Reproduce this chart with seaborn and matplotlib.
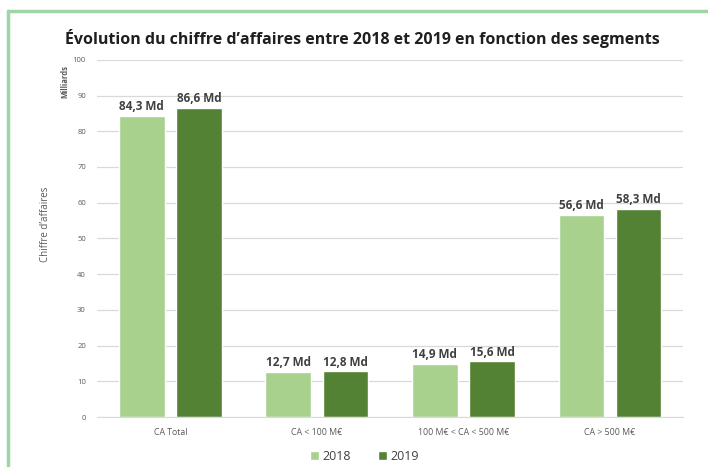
import pandas as pd
import matplotlib

matplotlib.use("Agg")
import matplotlib.pyplot as plt
import seaborn as sns
from matplotlib.lines import Line2D
from matplotlib.patches import Patch

segments = ["CA Total", "CA < 100 M€", "100 M€ < CA < 500 M€", "CA > 500 M€"]
years = ["2018", "2019"]
ca_2018 = [84.3, 12.7, 14.9, 56.6]
ca_2019 = [86.6, 12.8, 15.6, 58.3]
y_ticks = [0, 10, 20, 30, 40, 50, 60, 70, 80, 90, 100]

couleurs = {"2018": "#A9D18E", "2019": "#548235"}

df = pd.DataFrame(
    {
        "segment": segments * 2,
        "annee": ["2018"] * len(segments) + ["2019"] * len(segments),
        "ca": ca_2018 + ca_2019,
    }
)

sns.set_style("white")
plt.rcParams["font.family"] = ["Open Sans", "DejaVu Sans"]

fig = plt.figure(figsize=(7.08, 4.67), dpi=100)
ax = fig.add_axes([0.137, 0.107, 0.828, 0.765])

sns.barplot(
    data=df,
    x="segment",
    y="ca",
    hue="annee",
    hue_order=years,
    order=segments,
    palette=couleurs,
    width=0.78,
    gap=0.2,
    saturation=1,
    legend=False,
    ax=ax,
)

for cont in ax.containers:
    ax.bar_label(
        cont,
        labels=[f"{v:.1f} Md".replace(".", ",") for v in cont.datavalues],
        padding=2,
        fontsize=8.5,
        fontweight="bold",
        color="#404040",
    )

ax.set_ylim(0, 100)
ax.set_yticks(y_ticks)
ax.set_yticklabels([str(t) for t in y_ticks], fontsize=5.5, color="#595959")
ax.tick_params(axis="y", length=0, pad=8)
ax.tick_params(axis="x", length=0, pad=8, labelsize=6.3, labelcolor="#595959")
ax.grid(axis="y", color="#D9D9D9", linewidth=0.9)
ax.set_axisbelow(True)
for s in ["top", "right", "left"]:
    ax.spines[s].set_visible(False)
ax.spines["bottom"].set_color("#D9D9D9")
ax.set_xlabel("")
ax.set_ylabel("")

fig.text(0.092, 0.825, "Milliards", rotation=90, ha="center", va="center",
         fontsize=5.5, fontweight="bold", color="#595959")
fig.text(0.064, 0.52, "Chiffre d’affaires", rotation=90, ha="center", va="center",
         fontsize=7, color="#595959")

fig.text(0.512, 0.918,
         "Évolution du chiffre d’affaires entre 2018 et 2019 en fonction des segments",
         ha="center", va="center", fontsize=11.5, fontweight="bold", color="#1F1F1F")

handles = [Patch(facecolor=couleurs[a], label=a) for a in years]
fig.legend(handles=handles, loc="center", bbox_to_anchor=(0.515, 0.022),
           ncol=2, frameon=False, fontsize=9, handlelength=0.7, handleheight=0.7,
           columnspacing=2.2, handletextpad=0.3, labelcolor="#404040")

bord = "#9ED6A6"
fig.add_artist(Line2D([0.011, 1.0], [0.976, 0.976], color=bord, linewidth=2.5,
                      transform=fig.transFigure))
fig.add_artist(Line2D([0.011, 0.011], [0.0, 0.976], color=bord, linewidth=2.5,
                      transform=fig.transFigure))

fig.savefig("out.png", dpi=100, facecolor="white")
